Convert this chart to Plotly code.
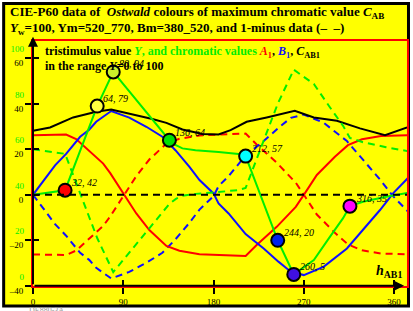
import plotly.graph_objects as go

# ---------------- data ----------------
hue_A = [0, 33, 43, 56, 70, 77, 90, 103, 116, 133, 146, 166, 212, 223, 243, 262, 272, 283, 301, 314, 328, 347, 373]
A1 = [26.2, 26.5, 24.5, 19.3, 13.7, 9.5, 0.6, -8.2, -15.5, -22.5, -24.6, -26.1, -26.9, -22.1, -14.1, -5.3, 1.3, 8.7,
      16.7, 21.8, 24.4, 25.8, 26.2]

hue_B = [0, 22, 33, 47, 56, 63, 78, 96, 113, 129, 142, 156, 166, 180, 185, 195, 212, 230, 245, 257, 270, 290, 313,
         329, 346, 359, 375]
B1 = [0, 12.9, 18.0, 25.5, 28.6, 32.1, 36.8, 33.9, 29.9, 25.5, 19.6, 12.3, 6.5, 0.6, -3.8, -8.2, -17.3, -23.6, -29.5,
      -33.8, -35.3, -31.6, -23.6, -15.5, -6.7, 0.6, 7.9]

hue_C = [0, 17, 40, 63, 78, 96, 119, 133, 149, 169, 185, 197, 213, 233, 261, 280, 303, 326, 351, 373]
C1 = [28.1, 29.6, 34.0, 36.5, 37.5, 35.8, 33.3, 31.6, 28.7, 26.7, 26.5, 28.4, 32.1, 34.0, 36.9, 34.0, 32.5, 29.2,
      26.2, 29.6]

hue_Y = [0, 32, 64, 80, 136, 142.5, 149, 162, 185, 205, 212, 244, 260, 280, 296, 309, 316, 329, 352, 375]
Y = [40, 42, 79, 94, 64, 61.8, 60.4, 59.6, 58.8, 57.9, 57, 20, 5, 11.3, 21.5, 29.6, 35, 36.9, 39.1, 40.9]

hue_pts = [32, 64, 80, 136, 212, 244, 260, 316]
Y_pts = [42, 79, 94, 64, 57, 20, 5, 35]
pt_colors = ['#ff0000', '#ffff40', '#c8f02a', '#00e000', '#00ffff', '#0022ee', '#4010e0', '#ff00ff']

x_ticks = [0, 90, 180, 270, 360]
y_ticks = [-40, -20, 0, 20, 40, 60]
y_ticktext = ['\u201340', '\u201320', '0', '20', '40', '60']
Y_ticks = [0, 20, 40, 60, 80, 100]

Y_OFFSET = 40          # Y is drawn shifted so that Y=40 sits on the zero line
x_range = [0, 372.9]
y_range = [-40.1, 67.6]

# ---------------- styles ----------------
FONT = 'Liberation Serif'
GREEN = '#00ee00'
RED = '#ff0000'
BLUE = '#1010ff'
DASH = '7px,5px'

W, H = 413, 311
ML, MR, MT, MB = 33, 4, 41, 25
PW, PH = W - ML - MR, H - MT - MB


def px(xp):
    return (xp - ML) / PW


def py(yp):
    return (H - MB - yp) / PH


fig = go.Figure()

# dashed "1-minus" data
fig.add_trace(go.Scatter(x=hue_A, y=[-a for a in A1], mode='lines',
                         line=dict(color=RED, width=2, dash=DASH), hoverinfo='skip'))
fig.add_trace(go.Scatter(x=hue_B, y=[-b for b in B1], mode='lines',
                         line=dict(color=BLUE, width=2, dash=DASH), hoverinfo='skip'))
fig.add_trace(go.Scatter(x=hue_Y, y=[100 - v for v in Y], mode='lines', yaxis='y2',
                         line=dict(color=GREEN, width=2, dash=DASH), hoverinfo='skip'))

# solid data
fig.add_trace(go.Scatter(x=hue_A, y=A1, mode='lines', line=dict(color=RED, width=2)))
fig.add_trace(go.Scatter(x=hue_B, y=B1, mode='lines', line=dict(color=BLUE, width=2)))
fig.add_trace(go.Scatter(x=hue_C, y=C1, mode='lines', line=dict(color='black', width=2)))
fig.add_trace(go.Scatter(x=hue_Y, y=Y, mode='lines', yaxis='y2', line=dict(color=GREEN, width=2)))

# Ostwald colour points
fig.add_trace(go.Scatter(x=hue_pts, y=Y_pts, mode='markers', yaxis='y2',
                         marker=dict(size=13, color=pt_colors, line=dict(color='black', width=2))))

for h, yv in zip(hue_pts, Y_pts):
    fig.add_annotation(x=h, y=yv, xref='x', yref='y2', text=f'<i>{h}, {yv}</i>',
                       showarrow=False, xanchor='left', yanchor='middle', xshift=4, yshift=8,
                       font=dict(family=FONT, size=10, color='black'))

# outer yellow panel with black border
fig.add_shape(type='rect', xref='paper', yref='paper', layer='below',
              x0=px(3.5), x1=px(410.5), y0=py(306), y1=py(3.5),
              fillcolor='#ffff00', line=dict(color='black', width=3))
# zero line (dashed black)
fig.add_shape(type='line', xref='paper', yref='y', x0=0, x1=1, y0=0, y1=0,
              line=dict(color='black', width=2, dash=DASH))

# axis arrows
fig.add_annotation(x=370, y=-40, ax=0, ay=-40, xref='x', yref='y', axref='x', ayref='y',
                   showarrow=True, arrowhead=2, arrowsize=1, arrowwidth=2, arrowcolor='black', text='')
fig.add_annotation(x=0, y=69.5, ax=0, ay=-40, xref='x', yref='y', axref='x', ayref='y',
                   showarrow=True, arrowhead=2, arrowsize=1, arrowwidth=2, arrowcolor='black', text='')

# texts
fig.add_annotation(xref='paper', yref='paper', x=px(8), y=py(13), xanchor='left', yanchor='middle',
                   showarrow=False, font=dict(family=FONT, size=13, color='black'),
                   text='<b>CIE-P60 data of  <i>Ostwald</i> colours of maximum chromatic value '
                        '<i>C</i><sub>AB</sub></b>')
fig.add_annotation(xref='paper', yref='paper', x=px(8), y=py(28), xanchor='left', yanchor='middle',
                   showarrow=False, font=dict(family=FONT, size=13, color='black'),
                   text='<b><i>Y</i><sub>w</sub>=100, Ym=520_770, Bm=380_520, and 1-minus data (\u2013  \u2013)</b>')
fig.add_annotation(xref='paper', yref='paper', x=px(43), y=py(52), xanchor='left', yanchor='middle',
                   showarrow=False, font=dict(family=FONT, size=12, color='black'),
                   text="<b>tristimulus value <span style='color:#00ee00'><i>Y</i>, and chromatic values </span>"
                        "<span style='color:#ff0000'><i>A</i><sub>1</sub></span>, "
                        "<span style='color:#1010ff'><i>B</i><sub>1</sub></span>, <i>C</i><sub>AB1</sub></b>")
fig.add_annotation(xref='paper', yref='paper', x=px(43), y=py(66), xanchor='left', yanchor='middle',
                   showarrow=False, font=dict(family=FONT, size=12, color='black'),
                   text='<b>in the range <i>Y</i>=0 to 100</b>')
fig.add_annotation(xref='paper', yref='paper', x=px(391), y=py(271), xanchor='center', yanchor='middle',
                   showarrow=False, font=dict(family=FONT, size=14, color='black'),
                   text='<b><i>h</i><sub>AB1</sub></b>')
fig.add_annotation(xref='paper', yref='paper', x=px(27), y=py(310), xanchor='left', yanchor='middle',
                   showarrow=False, font=dict(family=FONT, size=8, color='#999999'),
                   text='DE880-3A')

fig.update_layout(
    width=W, height=H, margin=dict(l=ML, r=MR, t=MT, b=MB, pad=0),
    paper_bgcolor='white', plot_bgcolor='rgba(0,0,0,0)', showlegend=False,
    xaxis=dict(range=x_range, tickvals=x_ticks, ticks='outside', ticklen=6, tickwidth=2,
               tickcolor='black', showgrid=False, zeroline=False, showline=True, linecolor=RED,
               linewidth=2, mirror=True,
               tickfont=dict(family=FONT, size=9, color='black'), tickprefix='<b>', ticksuffix='</b>'),
    xaxis2=dict(range=x_range, overlaying='x', tickvals=x_ticks, ticks='inside', ticklen=6, tickwidth=2,
                tickcolor='black', showticklabels=False, showgrid=False, zeroline=False, showline=False),
    yaxis=dict(range=y_range, tickvals=y_ticks, ticktext=y_ticktext, ticks='outside', ticklen=6, tickwidth=2,
               tickcolor='black', showgrid=False, zeroline=False, showline=True, linecolor=RED,
               linewidth=2, mirror=True, ticklabelshift=5,
               tickfont=dict(family=FONT, size=9, color='black'), tickprefix='<b>', ticksuffix='</b>'),
    yaxis2=dict(range=[y_range[0] + Y_OFFSET, y_range[1] + Y_OFFSET], overlaying='y', side='left',
                tickvals=Y_ticks, ticks='inside', ticklen=6, tickwidth=2, tickcolor='black',
                showgrid=False, zeroline=False, showline=False, ticklabelshift=-9, ticklabelstandoff=8,
                tickfont=dict(family=FONT, size=9, color=GREEN), tickprefix='<b>', ticksuffix='</b>'),
)

# second x-axis copy for crossing ticks
fig.add_trace(go.Scatter(x=[None], y=[None], xaxis='x2', hoverinfo='skip'))

fig.write_html('out.html', config={'displayModeBar': False},
               post_script="document.body.style.margin='0';document.body.style.padding='0';")
